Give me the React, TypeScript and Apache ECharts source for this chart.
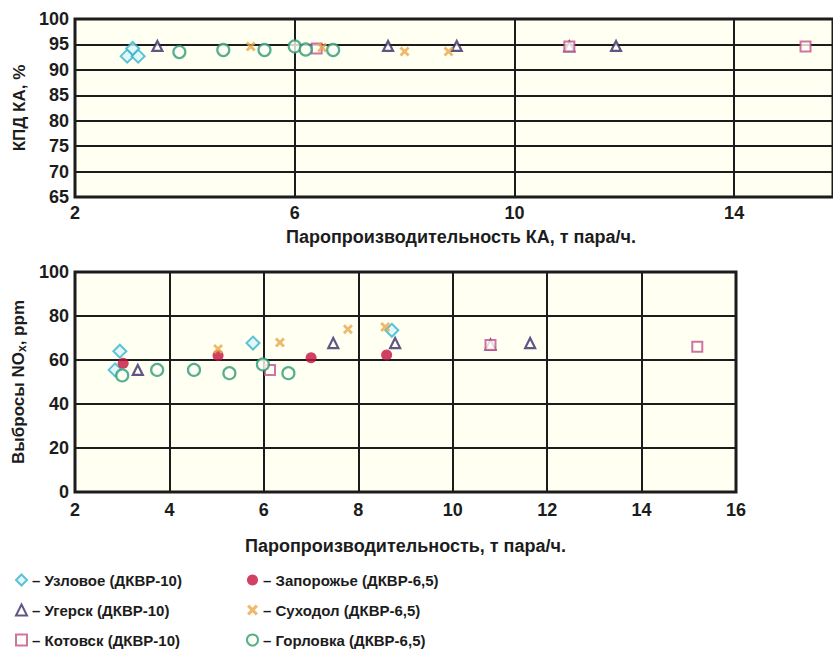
import React, { useEffect, useRef } from "react";
import * as echarts from "echarts";

// Series names (legend order: column 1, then column 2)
const seriesNames = [
  "Узловое (ДКВР-10)",
  "Угерск (ДКВР-10)",
  "Котовск (ДКВР-10)",
  "Запорожье (ДКВР-6,5)",
  "Суходол (ДКВР-6,5)",
  "Горловка (ДКВР-6,5)",
];

// Top chart: КПД КА, % vs паропроизводительность
const kpdUzlovoe = [[2.95, 92.7], [3.15, 92.7], [3.05, 94.2]];
const kpdUgersk = [[3.5, 94.7], [7.7, 94.7], [8.95, 94.7], [11.0, 94.6], [11.85, 94.7]];
const kpdKotovsk = [[6.4, 94.2], [11.0, 94.6], [15.3, 94.6]];
const kpdZaporozhye: number[][] = [];
const kpdSukhodol = [[5.2, 94.6], [6.5, 94.4], [8.0, 93.6], [8.8, 93.6]];
const kpdGorlovka = [[3.9, 93.5], [4.7, 93.9], [5.45, 93.9], [6.0, 94.6], [6.2, 94.0], [6.7, 93.9]];

// Bottom chart: выбросы NOx, ppm vs паропроизводительность
const noxUzlovoe = [[2.95, 64], [2.85, 55.5], [5.77, 67.7], [8.71, 73.5]];
const noxUgersk = [[3.33, 55.5], [7.47, 67.7], [8.78, 67.7], [10.8, 67], [11.64, 67.7]];
const noxKotovsk = [[6.13, 55.5], [10.8, 66.8], [15.18, 66]];
const noxZaporozhye = [[3.02, 58.5], [5.03, 62], [7.0, 61], [8.6, 62.3]];
const noxSukhodol = [[5.03, 65], [6.34, 68], [7.78, 74], [8.57, 75]];
const noxGorlovka = [[3.0, 53], [3.74, 55.5], [4.52, 55.5], [5.27, 54], [5.98, 58], [6.52, 54]];

// Axis ticks
const topXMin = 2, topXMax = 15.8, topXStep = 4;
const topYMin = 65, topYMax = 100, topYStep = 5;
const botXMin = 2, botXMax = 16, botXStep = 2;
const botYMin = 0, botYMax = 100, botYStep = 20;

const topXName = "Паропроизводительность КА, т пара/ч.";
const topYName = "КПД КА, %";
const botXName = "Паропроизводительность, т пара/ч.";

const FONT = "Liberation Sans, Arial, sans-serif";
const INK = "#1c1c1c";
const PLOT_BG = "#fffff2";

const crossPath =
  "path://M0,2 L2,0 L5,3 L8,0 L10,2 L7,5 L10,8 L8,10 L5,7 L2,10 L0,8 L3,5 Z";

const styles = [
  { symbol: "diamond", symbolSize: 13, itemStyle: { color: "#dcf5f9", borderColor: "#35b4cc", borderWidth: 2 } },
  { symbol: "triangle", symbolSize: 10, itemStyle: { color: "#fffff2", borderColor: "#3a2a6a", borderWidth: 2.2 } },
  { symbol: "rect", symbolSize: 10, itemStyle: { color: "#fffff2", borderColor: "#c2508e", borderWidth: 2 } },
  { symbol: "circle", symbolSize: 11, itemStyle: { color: "#c4123c", borderColor: "#c4123c", borderWidth: 0 } },
  { symbol: crossPath, symbolSize: 10, itemStyle: { color: "#e8a848", borderWidth: 0 } },
  { symbol: "circle", symbolSize: 12, itemStyle: { color: "#fffff2", borderColor: "#2e9a78", borderWidth: 2.2 } },
];

const topData = [kpdUzlovoe, kpdUgersk, kpdKotovsk, kpdZaporozhye, kpdSukhodol, kpdGorlovka];
const botData = [noxUzlovoe, noxUgersk, noxKotovsk, noxZaporozhye, noxSukhodol, noxGorlovka];

export default function App() {
  const ref = useRef<HTMLDivElement>(null);
  useEffect(() => {
    if (!ref.current) return;
    const chart = echarts.init(ref.current, undefined, { renderer: "svg" });

    const tickLabel = { color: INK, fontSize: 18, fontWeight: "bold" as const, fontFamily: FONT };
    const xNameStyle = { color: INK, fontSize: 18, fontWeight: "bold" as const, fontFamily: FONT };
    const yNameStyle = { color: INK, fontSize: 17, fontWeight: "bold" as const, fontFamily: FONT };
    const split = { show: true, lineStyle: { color: INK, width: 2 } };

    const series: any[] = [];
    seriesNames.forEach((name, i) => {
      series.push({
        name, type: "scatter", xAxisIndex: 0, yAxisIndex: 0,
        data: topData[i], ...styles[i],
      });
      series.push({
        name, type: "scatter", xAxisIndex: 1, yAxisIndex: 1,
        data: botData[i], ...styles[i],
      });
    });

    const legendCommon = {
      orient: "vertical" as const,
      top: 571,
      height: 82,
      padding: 0,
      itemGap: 12,
      itemWidth: 11,
      itemHeight: 11,
      formatter: (n: string) => "– " + n,
      textStyle: { color: INK, fontSize: 15, fontWeight: "bold" as const, fontFamily: FONT, lineHeight: 18 },
    };

    chart.setOption({
      animation: false,
      backgroundColor: "#ffffff",
      grid: [
        { left: 75, top: 19, width: 774, height: 178, show: true, backgroundColor: PLOT_BG, borderColor: INK, borderWidth: 3 },
        { left: 75, top: 272, width: 661, height: 220, show: true, backgroundColor: PLOT_BG, borderColor: INK, borderWidth: 3 },
      ],
      xAxis: [
        {
          type: "value", gridIndex: 0, min: topXMin, max: topXMax, interval: topXStep,
          axisLine: { show: false }, axisTick: { show: false },
          axisLabel: { ...tickLabel, margin: 7, showMaxLabel: false },
          splitLine: split,
          name: topXName, nameLocation: "middle", nameGap: 31,
          nameTextStyle: { ...xNameStyle, padding: [0, 0, 0, 14] },
        },
        {
          type: "value", gridIndex: 1, min: botXMin, max: botXMax, interval: botXStep,
          axisLine: { show: false }, axisTick: { show: false },
          axisLabel: { ...tickLabel, margin: 9 },
          splitLine: split,
          name: botXName, nameLocation: "middle", nameGap: 45, nameTextStyle: xNameStyle,
        },
      ],
      yAxis: [
        {
          type: "value", gridIndex: 0, min: topYMin, max: topYMax, interval: topYStep,
          axisLine: { show: false }, axisTick: { show: false },
          axisLabel: { ...tickLabel, margin: 6 },
          splitLine: split,
          name: topYName, nameLocation: "middle", nameGap: 36, nameTextStyle: yNameStyle,
        },
        {
          type: "value", gridIndex: 1, min: botYMin, max: botYMax, interval: botYStep,
          axisLine: { show: false }, axisTick: { show: false },
          axisLabel: { ...tickLabel, margin: 6 },
          splitLine: split,
          name: "Выбросы NO{sub|x}, ppm", nameLocation: "middle", nameGap: 36,
          nameTextStyle: {
            ...yNameStyle,
            rich: { sub: { fontSize: 12, fontWeight: "bold", fontFamily: FONT, color: INK, verticalAlign: "bottom", padding: [7, 0, 0, 0] } },
          },
        },
      ],
      legend: [
        { ...legendCommon, left: 15, data: seriesNames.slice(0, 3) },
        { ...legendCommon, left: 246, data: seriesNames.slice(3, 6) },
      ],
      series,
    });

    return () => chart.dispose();
  }, []);

  return (
    <div
      ref={ref}
      style={{ position: "absolute", left: 0, top: 0, width: 833, height: 653 }}
    />
  );
}
